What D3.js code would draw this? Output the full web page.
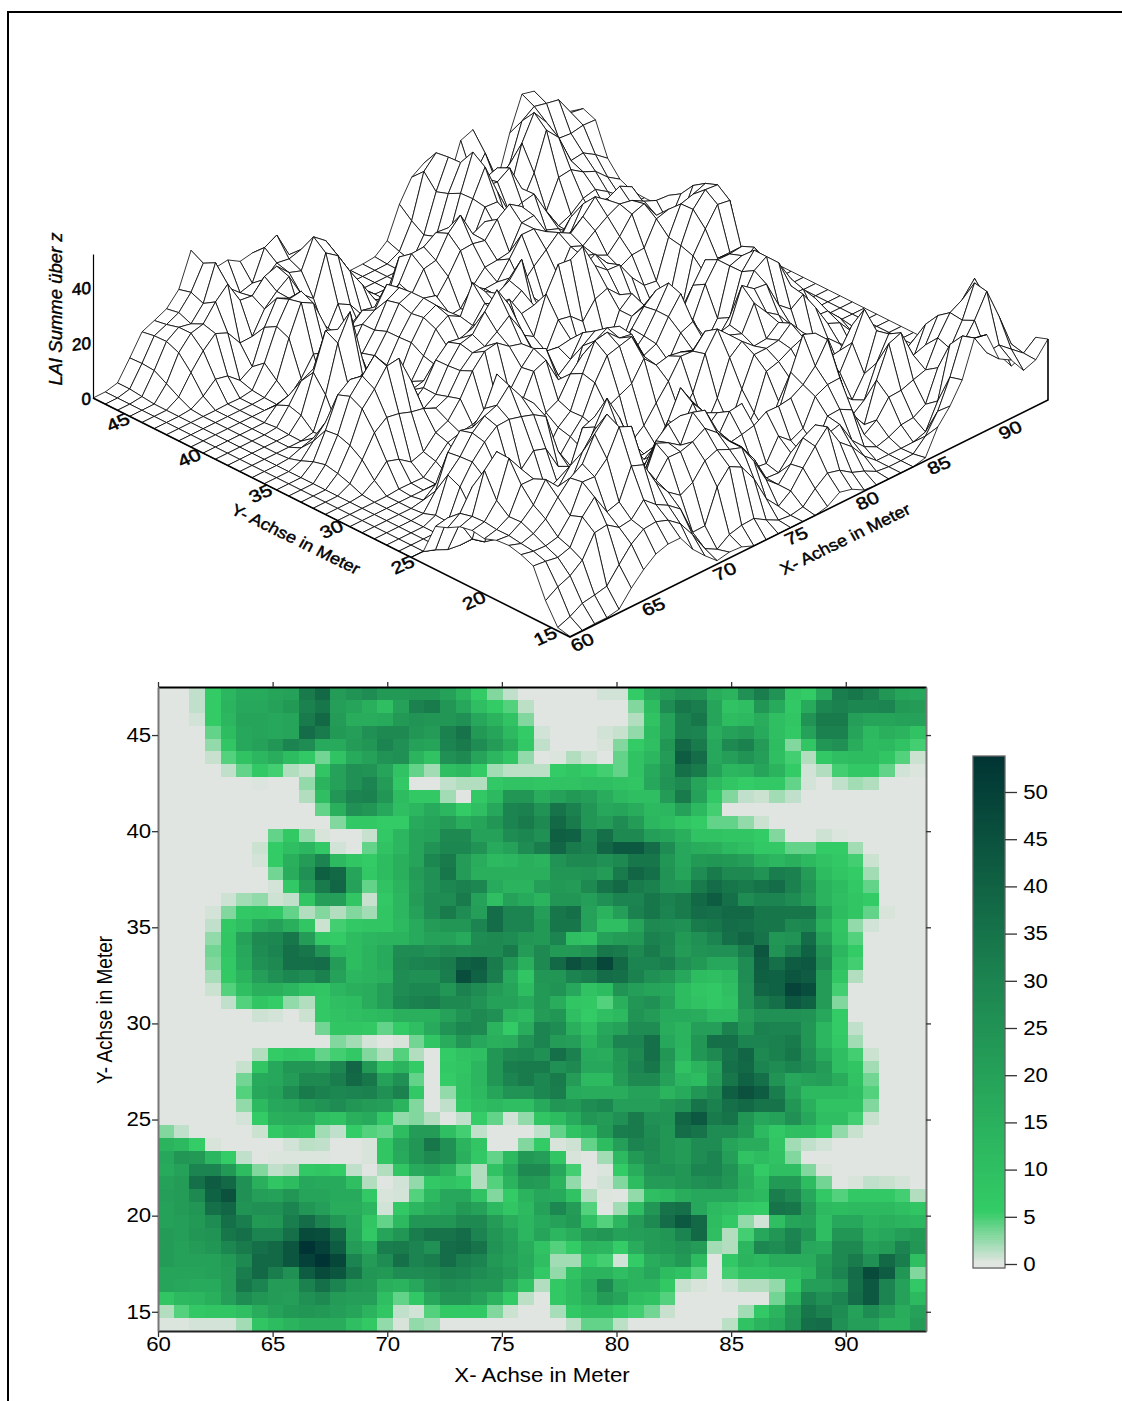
<!DOCTYPE html>
<html>
<head>
<meta charset="utf-8">
<script src="https://cdnjs.cloudflare.com/ajax/libs/d3/7.8.5/d3.min.js"></script>
<style>
  html, body { margin: 0; background: #fff; }
  text { font-family: "Liberation Sans", Arial, sans-serif; fill: #000; }
</style>
</head>
<body>
<script>
// LAI per cell, top row = largest y, left column = smallest x
const laiRows = [
[0,0,1,6,13,17,17,19,20,33,38,22,25,27,23,23,24,24,20,14,6,3,1,0,0,0,0,0,.5,.5,6,16,22,26,25,16,14,26,32,25,8,6,18,32,34,31,24,19,18],
[0,0,1,6,14,18,18,20,23,31,34,21,19,15,10,20,31,33,24,18,10,6,4.5,1.2,0,0,0,0,0,0,3,11,27,34,32,19,9,10,24,17,7,17,29,31,29,29,30,23,22],
[0,0,.5,6,13,19,19,18,19,33,38,22,16,16,17,23,25,24,24,26,18,14,9,3,0,0,0,0,0,0,1.5,9,20,31,34,19,11,12,16,10,8,25,33,33,21,19,19,20,20],
[0,0,0,4,11,18,19,18,19,37,33,23,21,26,28,28,24,22,31,35,23,19,12,6,.5,0,0,0,.5,.8,2.5,11,20,31,30,16,20,22,17,10,7,20,31,31,19,12,15,14,9],
[0,0,0,2.5,8,18,20,24,30,27,17,17,22,24,30,26,20,19,30,33,27,22,16,7,1,0,0,0,.3,3,6,10,24,38,33,18,28,31,22,11,3,8,24,26,16,11,12,9,5],
[0,0,0,.8,4.5,9,13,16,11,7,3.5,9,17,20,25,26,14,9,26,28,19,13,8,2.5,0,.2,1.5,.6,0,4,9,13,22,42,37,18,21,25,21,10,5,1.5,7,10,11,11,8,4.5,.7],
[0,0,0,0,1,4,7,5,1.5,.8,8,20,26,25,19,9,4,2,10,12,6,2,1.2,1.2,1.2,6,8,6,5,4,9,17,24,36,33,20,13,14,19,14,6,.5,1.5,5,7,7,4,.5,.2],
[0,0,0,0,0,0,.2,0,0,2.5,14,20,26,30,22,7,0,0,1,1.5,1.5,7,9,9,8,9,9,10,10,9,8,18,25,28,19,12,8,5.5,7,7,4,.4,0,1,2,1.5,0,0,0],
[0,0,0,0,0,0,0,0,0,1.5,10,24,30,31,24,11,6.5,6.5,2,0,7,12,24,24,16,20,23,21,16,12,10,10,22,33,20,7,3,1,.7,2,1,0,0,0,0,0,0,0,0],
[0,0,0,0,0,0,0,0,0,0,4,15,26,24,18,10,13,17,13,6,10,18,30,31,25,35,31,24,18,19,16,12,13,20,12,5,0,0,0,0,0,0,0,0,0,0,0,0,0],
[0,0,0,0,0,0,0,0,0,0,0,3,7,6.5,6,6,17,19,22,16,19,24,30,33,28,38,33,24,22,27,22,13,11,8,6,4,4,2.5,.7,0,0,0,0,0,0,0,0,0,0],
[0,0,0,0,0,0,0,4,6.5,2.5,.3,0,0,.8,7,13,19,20,28,28,20,20,27,29,26,41,40,30,36,28,28,21,19,15,9,9,8,8,6,3,0,0,.6,.2,0,0,0,0,0],
[0,0,0,0,0,0,.7,6,10,13,7,.5,0,4,9,13,19,25,29,29,25,17,20,27,32,39,33,31,39,43,43,37,27,18,16,15,12,10,7,7,4,4,6,6,2,0,0,0,0],
[0,0,0,0,0,0,.4,6,15,22,30,12,8,6,11,15,19,29,33,22,16,12,13,15,14,25,28,28,26,28,34,34,24,18,23,24,23,21,15,13,15,12,9,7,5,.7,0,0,0],
[0,0,0,0,0,0,0,3.5,16,26,41,38,19,7,11,15,22,26,34,22,15,15,15,15,15,24,24,25,22,33,39,36,25,19,27,33,28,28,25,32,31,22,11,8,6,2,0,0,0],
[0,0,0,0,0,0,0,.4,7,22,33,39,20,4,9,14,21,26,29,31,29,17,14,14,21,23,22,28,35,38,33,31,25,24,33,37,34,33,35,37,31,24,14,11,7,4,0,0,0],
[0,0,0,0,.6,2,2.5,.6,1,8,21,21,8,.8,7,13,22,27,27,33,20,10,20,17,14,24,24,21,26,30,30,34,31,33,38,42,36,27,30,30,27,22,14,10,8,6,0,0,0],
[0,0,0,.4,3,7,8,7,4,1.5,3,1.5,3,2,8,13,20,27,33,27,21,37,30,30,21,34,36,20,14,21,31,34,30,33,37,36,38,38,34,34,34,34,19,11,8,4,.3,0,0],
[0,0,0,1,6.5,10,17,20,15,8,.7,5,7,8,8,12,17,22,24,24,30,37,30,30,23,34,34,20,10,10,19,28,27,26,33,34,37,36,34,34,28,29,15,8,2.5,.5,0,0,0],
[0,0,0,2.5,8,20,28,29,34,22,7,6,11,13,14,14,17,20,20,17,27,28,27,24,23,30,10,9,20,22,23,31,29,23,26,30,36,39,35,24,25,37,20,9,4.5,0,0,0,0],
[0,0,0,3.5,8,18,27,30,36,34,25,13,11,14,17,27,27,26,28,27,28,28,33,22,28,23,23,25,34,33,28,33,28,22,25,26,26,32,44,25,32,40,25,13,6,0,0,0,0],
[0,0,0,3,7,17,26,28,36,36,37,22,11,14,17,28,30,31,33,40,42,33,24,15,28,38,45,41,48,38,30,30,32,26,23,18,18,27,42,36,42,43,27,10,5,0,0,0,0],
[0,0,0,1.8,6.5,14,21,26,29,27,31,20,13,14,15,27,26,26,32,46,40,32,17,8,24,24,30,32,37,36,31,26,24,18,11,10,12,27,41,40,44,42,22,8,1.5,0,0,0,0],
[0,0,0,.7,4.5,10,15,15,13,9,8,13,15,16,21,27,29,29,24,31,27,22,19,11,23,25,18,9,11,25,21,19,18,11,8,7,10,26,39,40,49,46,22,5,0,0,0,0,0],
[0,0,0,0,1,4.5,8,5.5,2.5,1.5,7,10,11,16,21,29,31,32,28,28,25,20,20,17,23,16,8,6.5,4.5,15,24,26,20,11,9,7,9,26,33,36,43,40,22,3,0,0,0,0,0],
[0,0,0,0,0,0,.6,.4,0,.7,7,9,10,11,12,15,15,15,20,25,28,26,14,12,22,24,10,6,10,12,25,22,17,17,16,12,12,22,26,26,26,25,18,6,0,0,0,0,0],
[0,0,0,0,0,0,0,0,0,0,3.5,8,8,6.5,4,6,10,17,25,29,28,14,6,16,30,27,15,10,18,20,27,27,16,14,21,21,31,24,31,30,30,24,13,6,1,0,0,0,0],
[0,0,0,0,0,0,0,0,0,0,0,3,2,.4,0,.3,3.5,8,16,24,18,15,16,25,30,22,21,14,20,30,30,36,18,14,24,36,36,30,30,31,33,24,13,7,2,0,0,0,0],
[0,0,0,0,0,0,1.5,6,8,7,4,5,7,3,1.5,4.5,1.5,0,6,9,10,24,28,29,26,36,31,17,16,24,28,36,24,13,24,28,35,39,28,31,34,26,17,10,5,.7,0,0,0],
[0,0,0,0,0,.8,8,18,24,24,22,29,39,23,9,14,6,0,7,8,13,24,32,33,33,26,28,18,18,23,30,34,22,9,14,20,36,38,30,27,30,27,22,10,8,2,0,0,0],
[0,0,0,0,0,3.5,17,18,22,28,28,32,38,34,20,26,4,0,5.5,9,13,24,30,33,29,33,22,12,12,22,28,28,20,13,11,22,34,40,36,25,18,20,21,16,9,3.5,0,0,0],
[0,0,0,0,0,4.5,18,20,27,33,31,29,30,31,26,31,7,0,2.5,9,12,19,25,25,29,32,17,16,16,16,20,20,14,17,24,28,41,45,42,32,20,12,12,12,10,4.5,0,0,0],
[0,0,0,0,0,2.5,12,18,19,23,25,27,24,22,21,14,3,0,1,7,10,12,10,10,17,24,23,27,29,21,21,21,24,26,35,31,36,38,35,35,24,15,9,9,9,3,0,0,0],
[0,0,0,0,0,.4,6,15,16,16,10,9,15,17,7,2.5,3,1.5,0,1,5.5,4,.5,2.5,8,11,17,24,22,26,33,26,25,39,43,33,35,24,18,20,26,18,10,10,5,.8,0,0,0],
[3,1,0,0,0,0,.7,7,10,9,2,1,5.5,4.5,4,11,22,22,10,5,1,0,0,0,1,4,9,13,23,32,33,27,24,37,35,27,27,23,12,7,10,10,6,2.5,.8,0,0,0,0],
[14,12,5.5,.3,0,0,0,0,.5,1.2,1,0,0,.3,8,18,24,34,26,14,8,0,0,3,6,.3,.6,4,11,21,30,28,24,22,27,27,19,16,16,8,2,1,.5,0,0,0,0,0,0],
[18,24,23,13,5.5,1,0,.2,.2,.2,.2,0,0,.3,8,17,24,28,26,15,7,4,12,23,21,8,.3,0,2,12,23,27,24,22,27,30,21,9,11,9,3,0,0,0,0,0,0,0,0],
[17,20,30,30,23,11,3,1,1.5,7,8,6,1,0,1.5,8,17,19,14,4.5,1.5,9,17,28,28,18,5,0,.2,6,16,25,26,24,30,30,25,15,6,10,10,3,.3,0,0,0,0,0,0],
[20,22,36,42,38,26,15,8,11,18,17,17,10,1.5,0,.5,2.5,7,9,7,1.5,4.5,14,23,22,14,2.5,0,.5,3,11,22,22,24,26,27,24,16,10,23,23,11,3.5,0,.3,1,.8,.4,0],
[21,22,28,40,45,26,21,20,24,19,19,17,17,7,.3,.4,4.5,12,18,18,9,3,6,14,18,17,9,1.5,.1,0,2.5,10,12,16,18,18,18,14,12,32,28,18,7,4.5,7,7,7,5,1.5],
[20,22,24,36,39,25,26,26,30,24,21,16,16,13,.5,7,13,16,18,23,20,12,8,12,20,29,22,4.5,0,2,10,24,35,36,18,12,10,7,6,35,34,22,12,11,12,12,12,10,8],
[20,21,23,27,36,32,23,24,32,37,31,24,18,8,4,12,24,24,24,28,28,22,16,13,17,20,23,10,4.5,13,22,28,37,43,38,11,7,2.5,.5,10,19,20,10,18,18,14,15,14,13],
[22,21,24,25,34,36,30,30,36,47,46,38,19,7,19,24,32,35,35,37,30,24,20,13,19,13,16,22,24,20,21,22,24,30,38,10,1.5,5,18,24,30,24,10,24,24,16,18,21,23],
[22,20,22,24,29,33,36,38,44,54,50,42,22,17,32,33,30,26,37,38,35,25,21,16,9,4.5,6,14,13,5.5,16,22,23,25,22,2,1.5,13,29,27,31,18,17,28,28,20,22,30,24],
[22,20,20,20,23,28,38,38,44,50,54,48,30,22,27,36,30,32,37,32,30,23,20,17,10,2,2,7,5,.5,6,16,19,23,11,0,7,14,12,16,16,16,23,28,33,26,38,32,10],
[19,19,19,20,22,32,38,32,26,42,47,44,34,24,23,27,27,28,31,30,27,25,22,16,7,2.5,9,14,14,10,14,18,11,9,4.5,0,5,9,9,10,10,14,24,30,37,47,42,24,3],
[19,18,17,17,22,34,30,22,22,31,36,30,24,23,15,14,18,25,27,26,24,24,16,9,1.5,6.5,11,17,28,16,14,14,6.5,.8,.3,0,.5,1.5,1.5,2.5,7,21,21,24,36,43,30,20,7],
[8,12,13,15,21,27,24,22,21,26,28,22,21,21,10,4,7,18,24,24,20,14,6,1.2,0,7,11,15,22,19,10,9,4.5,0,0,0,0,0,0,3.5,14,30,26,30,37,43,30,20,12],
[1.5,4.5,7,8,8,10,16,20,23,24,23,21,19,14,8,1,.5,4.5,6.5,7,7,3,.7,0,0,1.8,7,10,10,7,5,3.5,.8,0,0,0,0,2,7,14,24,34,31,27,20,27,22,16,20],
[.2,.2,.4,.4,.4,2,8,11,14,16,16,16,10,6.5,2.5,.3,2.5,2,0,0,0,0,0,0,0,0,1.2,4,4,1.2,0,0,0,0,0,0,1.2,9,14,17,25,36,37,26,21,21,15,15,22]
];

const xExtent = [60, 93.5];
const yExtent = [14, 47.5];
const xTicks = [60, 65, 70, 75, 80, 85, 90];
const yTicks = [15, 20, 25, 30, 35, 40, 45];
const meshXTicks = [60, 65, 70, 75, 80, 85, 90];
const meshYTicks = [15, 20, 25, 30, 35, 40, 45];
const zTicks = [0, 20, 40];
const legendTicks = [0, 5, 10, 15, 20, 25, 30, 35, 40, 45, 50];
const colorStops = [0, 5.5, 30, 54];
const colorValues = ["#e1e5e1", "#33cc66", "#1c8450", "#003333"];

const nCols = laiRows[0].length;
const nRows = laiRows.length;
const meshCells = 39;
const wide = 1.14; // the whole figure was stretched sideways

const svg = d3.select("body").append("svg")
  .attr("width", 1122)
  .attr("height", 1401)
  .style("display", "block");

// outer frame, runs off the page to the right and bottom
svg.append("path")
  .attr("d", "M8,1401V12H1122")
  .attr("fill", "none")
  .attr("stroke", "#000")
  .attr("stroke-width", 2);

const color = d3.scaleLinear().domain(colorStops).range(colorValues);

/* ---- heat map ---- */
const x = d3.scaleLinear().domain(xExtent).range([158, 926]);
const y = d3.scaleLinear().domain(yExtent).range([1331, 687]);
const colBand = d3.scaleBand().domain(d3.range(nCols)).range(x.range());
const rowBand = d3.scaleBand().domain(d3.range(nRows)).range(y.range().slice().reverse());

const cells = laiRows.flatMap((row, r) => row.map((v, c) => ({r, c, v})));
svg.append("g").attr("shape-rendering", "crispEdges")
  .selectAll("rect")
  .data(cells)
  .join("rect")
  .attr("x", d => colBand(d.c))
  .attr("y", d => rowBand(d.r))
  .attr("width", colBand.bandwidth() + .5)
  .attr("height", rowBand.bandwidth() + .5)
  .attr("fill", d => color(d.v));

function styleAxis(g, domainColor, size) {
  g.select(".domain").attr("stroke", domainColor).attr("stroke-width", 2);
  g.selectAll(".tick line").attr("stroke", "#333").attr("stroke-width", 1.3);
  g.selectAll("text")
    .style("font-size", size + "px")
    .style("font-family", '"Liberation Sans", Arial, sans-serif')
    .attr("transform", "scale(" + wide + ",1)");
}

svg.append("g").attr("transform", "translate(0,1331)")
  .call(d3.axisBottom(x).tickValues(xTicks).tickSize(6).tickPadding(0).tickSizeOuter(0))
  .call(styleAxis, "#222", 19.5);
svg.append("g").attr("transform", "translate(0,687)")
  .call(d3.axisTop(x).tickValues(xTicks).tickSize(5).tickFormat("").tickSizeOuter(0))
  .call(styleAxis, "#000", 19.5);
svg.append("g").attr("transform", "translate(158,0)")
  .call(d3.axisLeft(y).tickValues(yTicks).tickSize(6).tickPadding(0).tickSizeOuter(0))
  .call(styleAxis, "#777", 19.5);
svg.append("g").attr("transform", "translate(926,0)")
  .call(d3.axisRight(y).tickValues(yTicks).tickSize(5).tickFormat("").tickSizeOuter(0))
  .call(styleAxis, "#777", 19.5);

svg.append("text")
  .attr("transform", "translate(542,1382) scale(" + wide + ",1)")
  .attr("text-anchor", "middle")
  .style("font-size", "19.5px")
  .text("X- Achse in Meter");
svg.append("text")
  .attr("transform", "translate(112,1010) scale(" + wide + ",1) rotate(-90)")
  .attr("text-anchor", "middle")
  .style("font-size", "19px")
  .text("Y- Achse in Meter");

/* ---- colour bar ---- */
const legendY = d3.scaleLinear().domain([0, 50]).range([1264, 792]);
const legendTop = legendY.invert(756);
const legendBottom = legendY.invert(1268);
const legendSteps = d3.range(legendBottom, legendTop, .25);
svg.append("g").attr("shape-rendering", "crispEdges")
  .selectAll("rect")
  .data(legendSteps)
  .join("rect")
  .attr("x", 973)
  .attr("width", 32)
  .attr("y", d => legendY(d + .25))
  .attr("height", d => legendY(d) - legendY(d + .25) + .5)
  .attr("fill", d => color(Math.max(0, d)));
svg.append("rect")
  .attr("x", 973).attr("y", 756).attr("width", 32).attr("height", 512)
  .attr("fill", "none").attr("stroke", "#666").attr("stroke-width", 1.3);
svg.append("g").attr("transform", "translate(1005,0)")
  .call(d3.axisRight(legendY).tickValues(legendTicks).tickSize(12).tickPadding(4).tickSizeOuter(0))
  .call(styleAxis, "none", 19.5);

/* ---- wire frame ---- */
const floorX = d3.scaleLinear().domain(xExtent).range([0, 478]);
const floorYRight = d3.scaleLinear().domain([15, 48.5]).range([0, 477]);
const riseX = d3.scaleLinear().domain(xExtent).range([0, 237]);
const riseY = d3.scaleLinear().domain([15, 48.5]).range([0, 239]);
const z = d3.scaleLinear().domain([0, 52]).range([398, 254]);

function project(mx, my, mz) {
  return [
    570 + floorX(mx) - floorYRight(my),
    637 - riseX(mx) - riseY(my) - (398 - z(mz))
  ];
}

const colOf = d3.scaleLinear().domain(xExtent).range([-.5, nCols - .5]);
const rowOf = d3.scaleLinear().domain([15, 48.5]).range([nRows - .5, -.5]);

function laiAt(mx, my) {
  const cf = Math.max(0, Math.min(nCols - 1, colOf(mx)));
  const rf = Math.max(0, Math.min(nRows - 1, rowOf(my)));
  const c0 = Math.floor(cf), r0 = Math.floor(rf);
  const c1 = Math.min(nCols - 1, c0 + 1), r1 = Math.min(nRows - 1, r0 + 1);
  const top = d3.interpolateNumber(laiRows[r0][c0], laiRows[r0][c1])(cf - c0);
  const bot = d3.interpolateNumber(laiRows[r1][c0], laiRows[r1][c1])(cf - c0);
  return d3.interpolateNumber(top, bot)(rf - r0);
}

const meshX = d3.scaleLinear().domain([0, meshCells]).range(xExtent);
const meshY = d3.scaleLinear().domain([0, meshCells]).range([15, 48.5]);
const quads = [];
// far corner first so nearer facets cover it
for (let i = meshCells - 1; i >= 0; i--) {
  for (let j = meshCells - 1; j >= 0; j--) {
    quads.push([[i, j], [i + 1, j], [i + 1, j + 1], [i, j + 1]]);
  }
}
const surfaceLine = d3.line().curve(d3.curveLinearClosed);
const toScreen = p => {
  const mx = meshX(p[0]), my = meshY(p[1]);
  return project(mx, my, laiAt(mx, my));
};
svg.append("g")
  .selectAll("path")
  .data(quads)
  .join("path")
  .attr("d", q => surfaceLine(q.map(toScreen)))
  .attr("fill", "#fff")
  .attr("stroke", "#000")
  .attr("stroke-width", .8)
  .attr("stroke-linejoin", "round");

// floor edges and the two corner posts
const leftCorner = project(60, 48.5, 0);
const frontCorner = project(60, 15, 0);
const rightCorner = project(93.5, 15, 0);
const rightTop = project(93.5, 15, laiAt(93.5, 15));
svg.append("path")
  .attr("d", d3.line()([leftCorner, frontCorner, rightCorner, rightTop]))
  .attr("fill", "none").attr("stroke", "#000").attr("stroke-width", 1.6);

svg.append("g").attr("transform", "translate(" + leftCorner[0] + ",0)")
  .call(d3.axisLeft(z).tickValues(zTicks).tickSize(0).tickPadding(2).tickSizeOuter(0))
  .call(g => {
    g.select(".domain").attr("stroke", "#000").attr("stroke-width", 1.2);
    g.selectAll("text")
      .style("font-size", "17px")
      .style("font-family", '"Liberation Sans", Arial, sans-serif')
      .attr("stroke", "#000").attr("stroke-width", .6)
      .attr("transform", "skewY(-6)");
  });

const floorText = "matrix(1.05,-.47,.45,.85,";
function addFloorLabel(pos, label) {
  svg.append("text")
    .attr("transform", floorText + pos[0] + "," + pos[1] + ")")
    .attr("text-anchor", "middle")
    .attr("dy", ".36em")
    .attr("stroke", "#000").attr("stroke-width", .5)
    .style("font-size", "18px")
    .text(label);
}
meshYTicks.forEach(t => {
  const p = project(60, t, 0);
  addFloorLabel([p[0] - 25, p[1] - 1], t);
});
meshXTicks.forEach(t => {
  const p = project(t, 15, 0);
  addFloorLabel([p[0] + 12, p[1] + 5], t);
});

svg.append("text")
  .attr("transform", "matrix(.9,.44,-.45,.8,293,544)")
  .attr("text-anchor", "middle")
  .attr("stroke", "#000").attr("stroke-width", .45)
  .style("font-size", "18px")
  .text("Y- Achse in Meter");
svg.append("text")
  .attr("transform", "matrix(.9,-.44,.45,.8,848,544)")
  .attr("text-anchor", "middle")
  .attr("stroke", "#000").attr("stroke-width", .45)
  .style("font-size", "18px")
  .text("X- Achse in Meter");
svg.append("text")
  .attr("transform", "translate(62,309) rotate(-90)")
  .attr("text-anchor", "middle")
  .attr("stroke", "#000").attr("stroke-width", .35)
  .style("font-size", "18.5px")
  .style("font-style", "italic")
  .text("LAI Summe über z");
</script>
</body>
</html>
